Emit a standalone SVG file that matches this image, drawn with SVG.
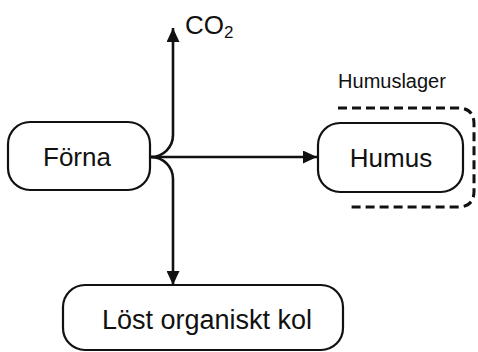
<svg xmlns="http://www.w3.org/2000/svg" width="478" height="352" viewBox="0 0 478 352">
<style>
.box{fill:#fff;stroke:#111;stroke-width:2.2}
.lbl{font-family:"Liberation Sans",Arial,sans-serif;fill:#111;text-anchor:middle}
.con{fill:none;stroke:#111;stroke-width:2.6}
</style>
<defs>
<marker id="ah" markerUnits="userSpaceOnUse" markerWidth="15" markerHeight="13" refX="14" refY="6.5" orient="auto">
<path d="M0,0 L14,6.5 L0,13 Z" fill="#111"/>
</marker>
</defs>
<rect width="478" height="352" fill="#fff"/>
<g id="connectors">
<path class="con" d="M151,157 A22,22 0 0 0 173,135 L173,28" marker-end="url(#ah)"/>
<path class="con" d="M151,157 A22,22 0 0 1 173,179 L173,285" marker-end="url(#ah)"/>
<path class="con" d="M151,157 L317,157" marker-end="url(#ah)"/>
</g>
<g id="co2">
<text class="lbl" x="185" y="34" style="text-anchor:start;font-size:26px">CO<tspan font-size="17" dy="4">2</tspan></text>
</g>
<g id="humuslager">
<path d="M338,108 L458,108 Q474,108 474,124 L474,191 Q474,207 458,207 L347,207" fill="none" stroke="#111" stroke-width="3" stroke-dasharray="9,5"/>
<text class="lbl" x="392" y="88" style="font-size:20px">Humuslager</text>
</g>
<g id="forna">
<rect class="box" x="8" y="122" width="142" height="68" rx="22"/>
<text class="lbl" x="77" y="166" style="font-size:26px">Förna</text>
</g>
<g id="humus">
<rect class="box" x="318" y="123" width="145" height="69" rx="22"/>
<text class="lbl" x="391" y="167" style="font-size:26px">Humus</text>
</g>
<g id="lost">
<rect class="box" x="63" y="285" width="280" height="65" rx="22"/>
<text class="lbl" x="207" y="329" style="font-size:27px">Löst organiskt kol</text>
</g>
</svg>
